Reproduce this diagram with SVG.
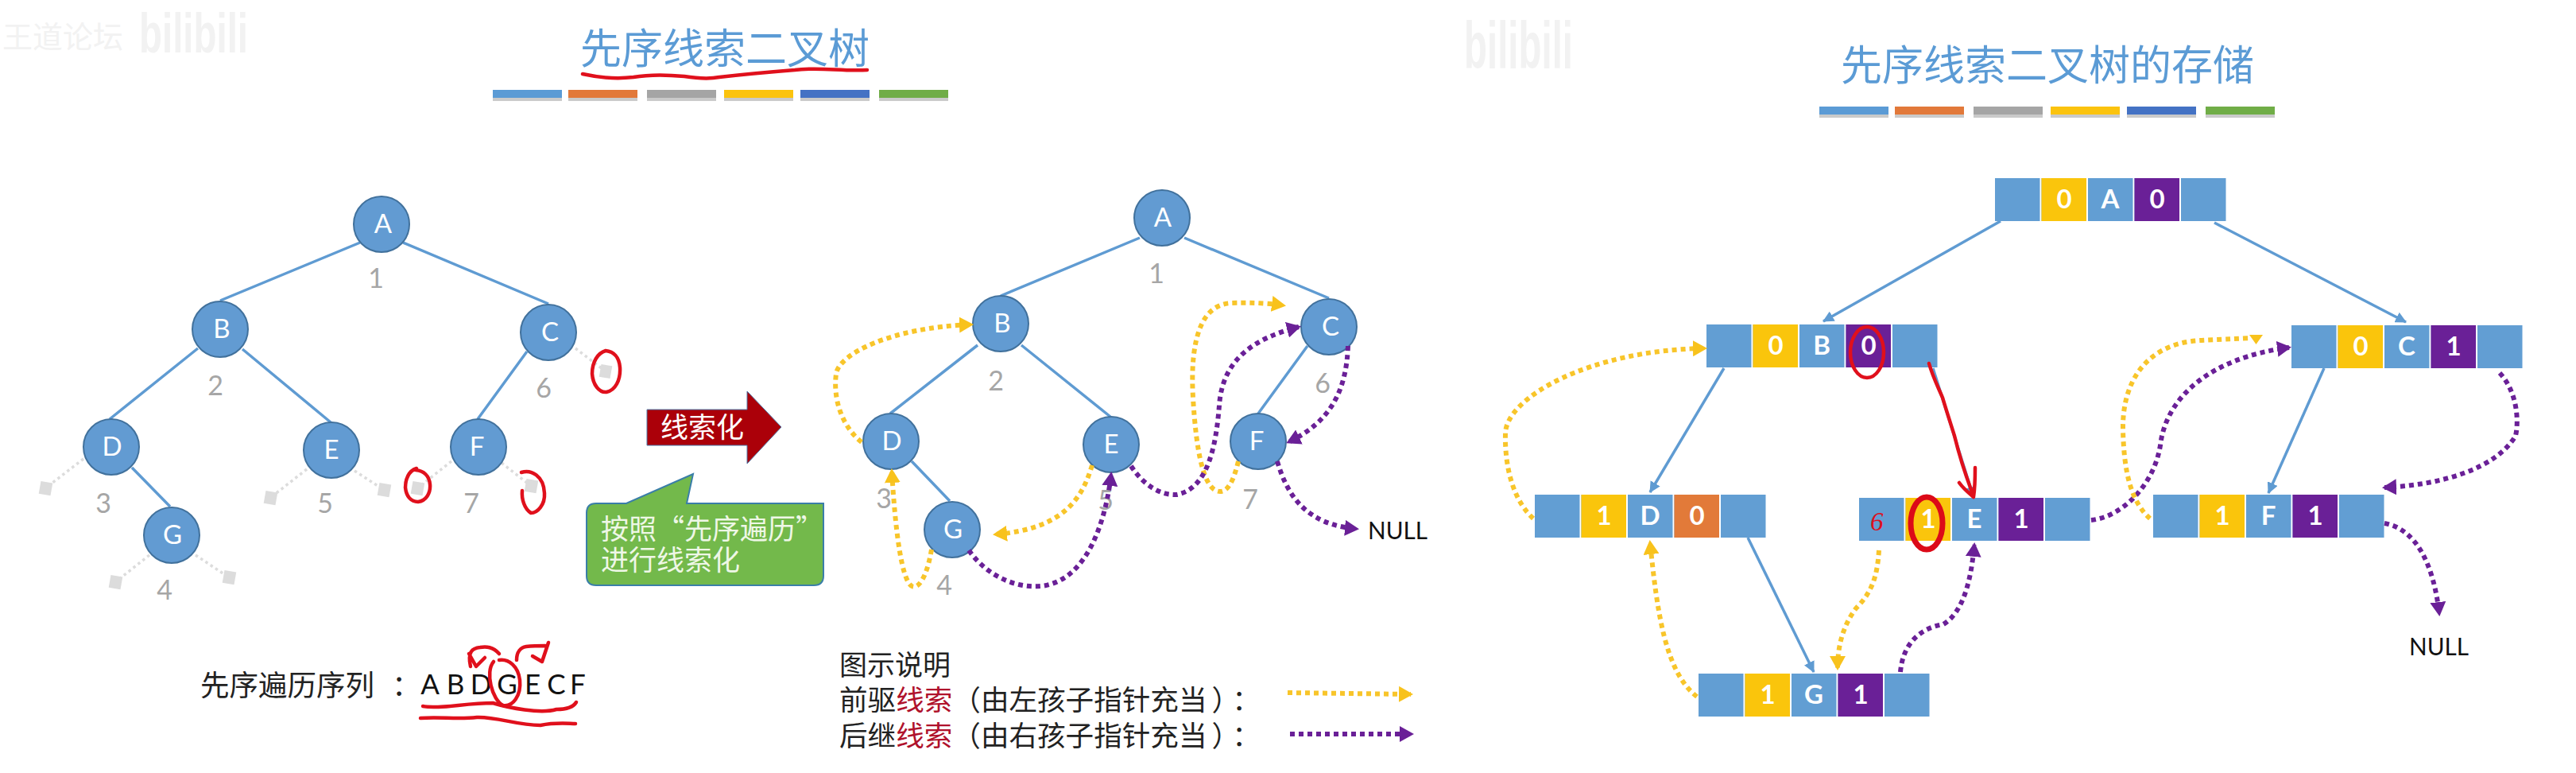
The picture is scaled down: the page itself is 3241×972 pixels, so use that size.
<svg xmlns="http://www.w3.org/2000/svg" width="3241" height="972" viewBox="0 0 3241 972">
<style>
text{font-family:"Noto Sans CJK SC","Noto Sans",sans-serif}
.title{font-size:52px;fill:#5b9bd5}
.lat{font-family:Lato,"Liberation Sans",sans-serif}
.nl{font-size:33px;fill:#fff;text-anchor:middle;font-family:Lato,"Liberation Sans",sans-serif}
.num{font-size:34px;fill:#a6a6a6;text-anchor:middle;font-family:Lato,"Liberation Sans",sans-serif}
.circ{fill:#629bd2;stroke:#41719c;stroke-width:2}
.edge{stroke:#5f9bd2;stroke-width:3.5;fill:none}
.nullp{stroke:#dcdcdc;stroke-width:3.500;stroke-dasharray:3.500 4;fill:none}
.nulls{fill:#dcdcdc}
.y{stroke:#f8c52a;stroke-width:6;stroke-dasharray:6 5;fill:none;marker-end:url(#hy)}
.p{stroke:#6a2097;stroke-width:6;stroke-dasharray:6 5;fill:none;marker-end:url(#hp)}
.blue{stroke:#5f9bd2;stroke-width:3.5;fill:none;marker-end:url(#hb)}
.ink{stroke:#e0101c;stroke-width:4.500;fill:none;stroke-linecap:round;stroke-linejoin:round}
.inkb{stroke:#dc0a18;stroke-width:7;fill:none;stroke-linecap:round;stroke-linejoin:round}
.c{fill:#629ed3}.cy{fill:#fac50c}.cp{fill:#6a2097}.co{fill:#e27a39}
.ct{font-size:33px;font-weight:700;fill:#fff;text-anchor:middle;font-family:Lato,"Liberation Sans",sans-serif}
.txt{font-size:35.6px;fill:#222}
.red{fill:#b0122c}
.mark{fill:#f2f2f2}
.bs{fill:#8a8a8a;opacity:.45}
</style>
<defs>
<marker id="hy" markerUnits="userSpaceOnUse" viewBox="0 0 18 20" refX="15" refY="10" markerWidth="18" markerHeight="20" orient="auto"><path d="M0 0L18 10L0 20z" fill="#f8c21c"/></marker>
<marker id="hp" markerUnits="userSpaceOnUse" viewBox="0 0 18 20" refX="15" refY="10" markerWidth="18" markerHeight="20" orient="auto"><path d="M0 0L18 10L0 20z" fill="#6a2097"/></marker>
<marker id="hb" markerUnits="userSpaceOnUse" viewBox="0 0 14 14" refX="13" refY="7" markerWidth="14" markerHeight="14" orient="auto"><path d="M0 0L14 7L0 14z" fill="#5f9bd2"/></marker>
<g id="cells">
<rect class="c" x="0" width="56.5" height="54"/><rect class="c" x="58.5" width="56.5" height="54"/><rect class="c" x="117" width="56.5" height="54"/><rect class="c" x="175.5" width="56.5" height="54"/><rect class="c" x="234" width="56.5" height="54"/>
</g>
<g id="bars">
<rect class="bs" x="0" y="4" width="87" height="10"/><rect x="0" width="87" height="10" fill="#5b9bd5"/>
<rect class="bs" x="95" y="4" width="87" height="10"/><rect x="95" width="87" height="10" fill="#e2793a"/>
<rect class="bs" x="194" y="4" width="87" height="10"/><rect x="194" width="87" height="10" fill="#a5a5a5"/>
<rect class="bs" x="291" y="4" width="87" height="10"/><rect x="291" width="87" height="10" fill="#fbc30e"/>
<rect class="bs" x="387" y="4" width="87" height="10"/><rect x="387" width="87" height="10" fill="#4472c4"/>
<rect class="bs" x="486" y="4" width="87" height="10"/><rect x="486" width="87" height="10" fill="#70ad47"/>
</g>
</defs>
<rect width="3241" height="972" fill="#fff"/>

<!-- faint channel marks in the corners -->
<g id="marks">
<text class="mark" x="3" y="60" font-size="38">王道论坛</text>
<text class="mark" x="175" y="66" font-size="70" font-weight="700" textLength="137" lengthAdjust="spacingAndGlyphs" style="font-family:'Liberation Sans',sans-serif">bilibili</text>
<text class="mark" x="1842" y="86" font-size="84" font-weight="700" textLength="137" lengthAdjust="spacingAndGlyphs" style="font-family:'Liberation Sans',sans-serif">bilibili</text>
</g>

<g id="heading-left">
<text class="title" x="730" y="80">先序线索二叉树</text>
<use href="#bars" x="620" y="113"/>
</g>
<g id="heading-right">
<text class="title" x="2316" y="101">先序线索二叉树的存储</text>
<use href="#bars" x="2289" y="134"/>
</g>

<!-- source tree: edges and empty child stubs -->
<g id="tree-a-connectors">
<path class="edge" d="M453 305L277 378M507 305L690 382M249 438L138 527M305 439L416 531M663 442L601 527M166 588L214 637"/>
<path class="nullp" d="M724 438L762 467M105 577L57 614M386 590L340 626M446 592L483 616M568 580L525 614M631 582L668 611M188 698L145 732M246 698L288 726"/>
</g>
<g id="tree-a-stubs">
<rect class="nulls" x="755" y="459" width="14" height="16" transform="rotate(10 762 467)"/>
<rect class="nulls" x="50" y="606" width="15" height="16" transform="rotate(10 57 614)"/>
<rect class="nulls" x="333" y="618" width="15" height="16" transform="rotate(10 340 626)"/>
<rect class="nulls" x="476" y="608" width="15" height="16" transform="rotate(10 483 616)"/>
<rect class="nulls" x="518" y="606" width="15" height="16" transform="rotate(10 525 614)"/>
<rect class="nulls" x="661" y="603" width="15" height="16" transform="rotate(10 668 611)"/>
<rect class="nulls" x="138" y="724" width="15" height="16" transform="rotate(10 145 732)"/>
<rect class="nulls" x="281" y="718" width="15" height="16" transform="rotate(10 288 726)"/>
</g>
<g id="a-A"><circle class="circ" cx="480" cy="282" r="35"/><text class="nl" x="482" y="293">A</text><text class="num" x="473" y="362">1</text></g>
<g id="a-B"><circle class="circ" cx="277" cy="414" r="35"/><text class="nl" x="279" y="425">B</text><text class="num" x="271" y="497">2</text></g>
<g id="a-C"><circle class="circ" cx="690" cy="418" r="35"/><text class="nl" x="692" y="429">C</text><text class="num" x="684" y="500">6</text></g>
<g id="a-D"><circle class="circ" cx="140" cy="562" r="35"/><text class="nl" x="141" y="573">D</text><text class="num" x="130" y="645">3</text></g>
<g id="a-E"><circle class="circ" cx="417" cy="566" r="35"/><text class="nl" x="417" y="577">E</text><text class="num" x="409" y="645">5</text></g>
<g id="a-F"><circle class="circ" cx="602" cy="562" r="35"/><text class="nl" x="600" y="573">F</text><text class="num" x="593" y="645">7</text></g>
<g id="a-G"><circle class="circ" cx="216" cy="673" r="35"/><text class="nl" x="217" y="684">G</text><text class="num" x="207" y="754">4</text></g>

<!-- block arrow and callout between the two trees -->
<g id="thread-arrow">
<path d="M814 515H940V492L983 537L940 583V560H814z" fill="#ab0009" stroke="#4d78a8" stroke-width="1"/>
<text x="831" y="550" font-size="35" fill="#fff">线索化</text>
</g>
<g id="callout">
<path d="M750 633H788L872 596L864 633H1036V724Q1036 736 1024 736H750Q738 736 738 724V645Q738 633 750 633z" fill="#73b94b" stroke="#3a7ea8" stroke-width="2"/>
<text x="756" y="678" font-size="35" fill="#eef7e6">按照“先序遍历”</text>
<text x="756" y="717" font-size="35" fill="#eef7e6">进行线索化</text>
</g>

<g id="sequence">
<text x="252" y="875" font-size="36.500" fill="#222">先序遍历序列<tspan x="493">：</tspan></text>
<g font-size="35" fill="#111" text-anchor="middle">
<text class="lat" x="541" y="873">A</text><text class="lat" x="573" y="873">B</text><text class="lat" x="605" y="873">D</text><text class="lat" x="638" y="873">G</text><text class="lat" x="670" y="873">E</text><text class="lat" x="700" y="873">C</text><text class="lat" x="727" y="873">F</text>
</g>
</g>

<!-- threaded tree -->
<g id="tree-b-connectors">
<path class="edge" d="M1434 299L1259 372M1490 299L1672 375M1230 434L1120 520M1285 434L1397 524M1645 435L1583 520M1147 580L1195 630"/>
</g>
<g id="b-A"><circle class="circ" cx="1462" cy="274" r="35"/><text class="nl" x="1463" y="285">A</text><text class="num" x="1455" y="356">1</text></g>
<g id="b-B"><circle class="circ" cx="1259" cy="407" r="35"/><text class="nl" x="1261" y="418">B</text><text class="num" x="1253" y="491">2</text></g>
<g id="b-C"><circle class="circ" cx="1672" cy="411" r="35"/><text class="nl" x="1674" y="422">C</text><text class="num" x="1664" y="494">6</text></g>
<g id="b-D"><circle class="circ" cx="1121" cy="555" r="35"/><text class="nl" x="1122" y="566">D</text><text class="num" x="1112" y="639">3</text></g>
<g id="b-E"><circle class="circ" cx="1398" cy="559" r="35"/><text class="nl" x="1398" y="570">E</text><text class="num" x="1391" y="641">5</text></g>
<g id="b-F"><circle class="circ" cx="1583" cy="555" r="35"/><text class="nl" x="1581" y="566">F</text><text class="num" x="1573" y="640">7</text></g>
<g id="b-G"><circle class="circ" cx="1198" cy="666" r="35"/><text class="nl" x="1199" y="677">G</text><text class="num" x="1188" y="748">4</text></g>
<g id="b-null"><text class="lat" x="1721" y="678" font-size="30" fill="#111" textLength="75" lengthAdjust="spacingAndGlyphs">NULL</text></g>
<g id="tree-b-threads">
<path class="y" d="M1084 556C1058 535 1048 500 1052 470C1056 445 1120 412 1222 408"/>
<path class="y" d="M1172 691C1168 715 1160 737 1150 738C1134 738 1126 660 1122 592"/>
<path class="y" d="M1374 585C1362 625 1340 665 1252 672"/>
<path class="y" d="M1558 580C1552 605 1545 618 1535 618C1515 618 1505 570 1501 500C1497 430 1510 382 1550 381C1580 380 1600 382 1615 384"/>
<path class="p" d="M1219 692C1240 722 1275 740 1310 737C1370 730 1392 650 1398 596"/>
<path class="p" d="M1423 586C1440 612 1462 623 1480 622C1520 615 1530 560 1534 510C1538 450 1580 425 1634 411"/>
<path class="p" d="M1696 435C1694 490 1675 530 1621 556"/>
<path class="p" d="M1607 580C1620 625 1645 660 1707 665"/>
</g>

<g id="legend">
<text x="1056" y="849" font-size="35" fill="#222">图示说明</text>
<text class="txt" x="1056" y="893">前驱<tspan class="red">线索</tspan>（由左孩子指针充当<tspan dx="6">）</tspan><tspan dx="8">：</tspan></text>
<text class="txt" x="1056" y="938">后继<tspan class="red">线索</tspan>（由右孩子指针充当<tspan dx="6">）</tspan><tspan dx="8">：</tspan></text>
<path class="y" d="M1620 871L1775 873"/>
<path class="p" d="M1623 923L1776 923"/>
</g>

<!-- linked storage records -->
<g id="store-links">
<path class="blue" d="M2517 278L2294 404"/>
<path class="blue" d="M2786 280L3027 405"/>
<path class="blue" d="M2169 463L2076 619"/>
<path class="blue" d="M2432 463L2483 625"/>
<path class="blue" d="M2199 676L2282 845"/>
<path class="blue" d="M2924 463L2854 620"/>
</g>
<g id="store-A" transform="translate(2510 224)"><use href="#cells"/><rect class="cy" x="58.5" width="56.5" height="54"/><rect class="cp" x="175.5" width="56.5" height="54"/><text class="ct" x="87" y="38">0</text><text class="ct" x="145" y="38">A</text><text class="ct" x="204" y="38">0</text></g>
<g id="store-B" transform="translate(2147 408)"><use href="#cells"/><rect class="cy" x="58.5" width="56.5" height="54"/><rect class="cp" x="175.5" width="56.5" height="54"/><text class="ct" x="87" y="38">0</text><text class="ct" x="145" y="38">B</text><text class="ct" x="204" y="38">0</text></g>
<g id="store-C" transform="translate(2883 409)"><use href="#cells"/><rect class="cy" x="58.5" width="56.5" height="54"/><rect class="cp" x="175.5" width="56.5" height="54"/><text class="ct" x="87" y="38">0</text><text class="ct" x="145" y="38">C</text><text class="ct" x="204" y="38">1</text></g>
<g id="store-D" transform="translate(1931 622)"><use href="#cells"/><rect class="cy" x="58.5" width="56.5" height="54"/><rect class="co" x="175.5" width="56.5" height="54"/><text class="ct" x="87" y="38">1</text><text class="ct" x="145" y="38">D</text><text class="ct" x="204" y="38">0</text></g>
<g id="store-E" transform="translate(2339 626)"><use href="#cells"/><rect class="cy" x="58.5" width="56.5" height="54"/><rect class="cp" x="175.5" width="56.5" height="54"/><text class="ct" x="87" y="38">1</text><text class="ct" x="145" y="38">E</text><text class="ct" x="204" y="38">1</text></g>
<g id="store-F" transform="translate(2709 622)"><use href="#cells"/><rect class="cy" x="58.5" width="56.5" height="54"/><rect class="cp" x="175.5" width="56.5" height="54"/><text class="ct" x="87" y="38">1</text><text class="ct" x="145" y="38">F</text><text class="ct" x="204" y="38">1</text></g>
<g id="store-G" transform="translate(2137 847)"><use href="#cells"/><rect class="cy" x="58.5" width="56.5" height="54"/><rect class="cp" x="175.5" width="56.5" height="54"/><text class="ct" x="87" y="38">1</text><text class="ct" x="145" y="38">G</text><text class="ct" x="204" y="38">1</text></g>
<g id="store-null"><text class="lat" x="3031" y="824" font-size="30" fill="#111" textLength="75" lengthAdjust="spacingAndGlyphs">NULL</text></g>
<g id="store-threads">
<path class="y" d="M1929 652C1905 630 1893 590 1894 545C1895 500 2000 440 2145 438"/>
<path class="y" d="M2135 876C2095 845 2085 770 2076 682"/>
<path class="y" d="M2364 692C2362 725 2355 745 2335 765C2320 785 2312 810 2312 840"/>
<path class="p" d="M2391 845C2394 810 2415 790 2445 785C2470 770 2480 730 2484 685"/>
<path class="p" d="M2631 654C2670 650 2710 610 2718 560C2725 500 2780 450 2880 437"/>
<path d="M2705 652C2680 630 2672 590 2671 540C2670 470 2710 430 2770 428C2790 427 2810 426 2832 425" fill="none" stroke="#f8c52a" stroke-width="6" stroke-dasharray="6 5"/>
<path d="M2830 421H2847L2838.500 433z" fill="#f8c21c"/>
<path class="p" d="M3145 469C3165 490 3170 525 3165 548C3140 590 3070 610 3000 613"/>
<path class="p" d="M3000 658C3040 665 3062 710 3069 772"/>
</g>

<!-- pen annotations -->
<g id="pen-left">
<path class="ink" d="M733 93C760 99 780 99 797 97C820 93 840 94 861 96C880 99 895 99 905 97C940 93 975 90 1000 88C1030 84 1060 90 1091 88" stroke-width="5"/>
<path class="ink" d="M762 441C752 444 745 455 745 470C746 484 754 494 763 493C774 491 781 478 780 462C779 449 772 442 762 441z"/>
<path class="ink" d="M524 589C514 592 510 603 510 613C511 624 517 631 526 631C536 630 542 620 541 609C540 598 533 592 523 591"/>
<path class="ink" d="M656 594C668 590 684 598 685 620C686 635 676 645 668 645C660 640 656 628 657 617"/>
<path class="ink" d="M621 832C610 845 619 880 633 887C645 889 656 875 654 855C652 838 640 828 628 830"/>
<path class="ink" d="M532 888C552 892 585 884 620 884C640 890 680 898 700 892C715 892 722 888 725 883" stroke-width="5.500"/>
<path class="ink" d="M529 903C555 901 575 905 600 902C625 901 650 912 680 912C700 908 715 910 724 910" stroke-width="5.500"/>
<path class="ink" d="M628 822C620 813 612 813 604 814C594 815 588 820 592 838M590 822L599 838L610 827"/>
<path class="ink" d="M650 830C650 820 655 814 662 813C672 812 680 812 686 812M690 808L682 832L670 825"/>
</g>
<g id="pen-right">
<ellipse class="ink" cx="2349" cy="443" rx="21" ry="32" stroke-width="5"/>
<ellipse class="inkb" cx="2424" cy="658" rx="20" ry="33"/>
<path class="ink" d="M2427 457C2432 475 2440 490 2444 500C2450 520 2455 535 2459 548C2468 585 2476 605 2483 624M2465 607C2470 614 2477 620 2483 625C2485 612 2485 600 2485 588" stroke-width="5"/>
<text x="2353" y="667" font-size="33" font-style="italic" fill="#dc1020" style="font-family:'Liberation Serif',serif">6</text>
</g>
</svg>
